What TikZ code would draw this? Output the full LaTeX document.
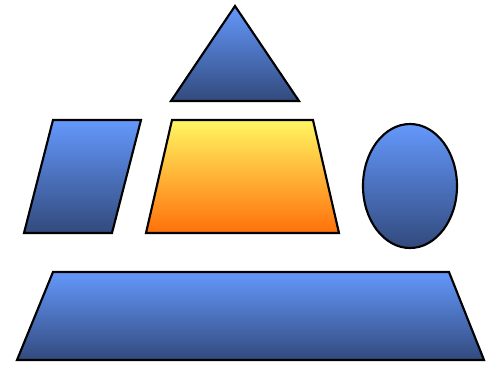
\documentclass[tikz,border=0pt]{standalone}
\begin{document}
\begin{tikzpicture}[x=0.75pt,y=-0.75pt,
  bluefill/.style={draw=black,line width=1.6pt,line join=miter,top color=blueTop,bottom color=blueBot,shading angle=0},
  orangefill/.style={draw=black,line width=1.6pt,line join=miter,top color=orTop,bottom color=orBot}]
\definecolor{blueTop}{RGB}{100,152,252}
\definecolor{blueBot}{RGB}{50,74,125}
\definecolor{orTop}{RGB}{255,246,98}
\definecolor{orBot}{RGB}{255,112,10}
\useasboundingbox (0,0) rectangle (487,365);
% triangle
\path[bluefill] (235,6) -- (299,101) -- (171,101) -- cycle;
% left parallelogram
\path[bluefill] (53,120) -- (141,120) -- (112,233) -- (24,233) -- cycle;
% centre trapezoid
\path[orangefill] (172,120) -- (313,120) -- (339,233) -- (146,233) -- cycle;
% ellipse
\path[bluefill] (410,186) ellipse [x radius=47, y radius=62];
% bottom trapezoid
\path[bluefill] (53,272) -- (449,272) -- (484,360) -- (17,360) -- cycle;
\end{tikzpicture}
\end{document}
